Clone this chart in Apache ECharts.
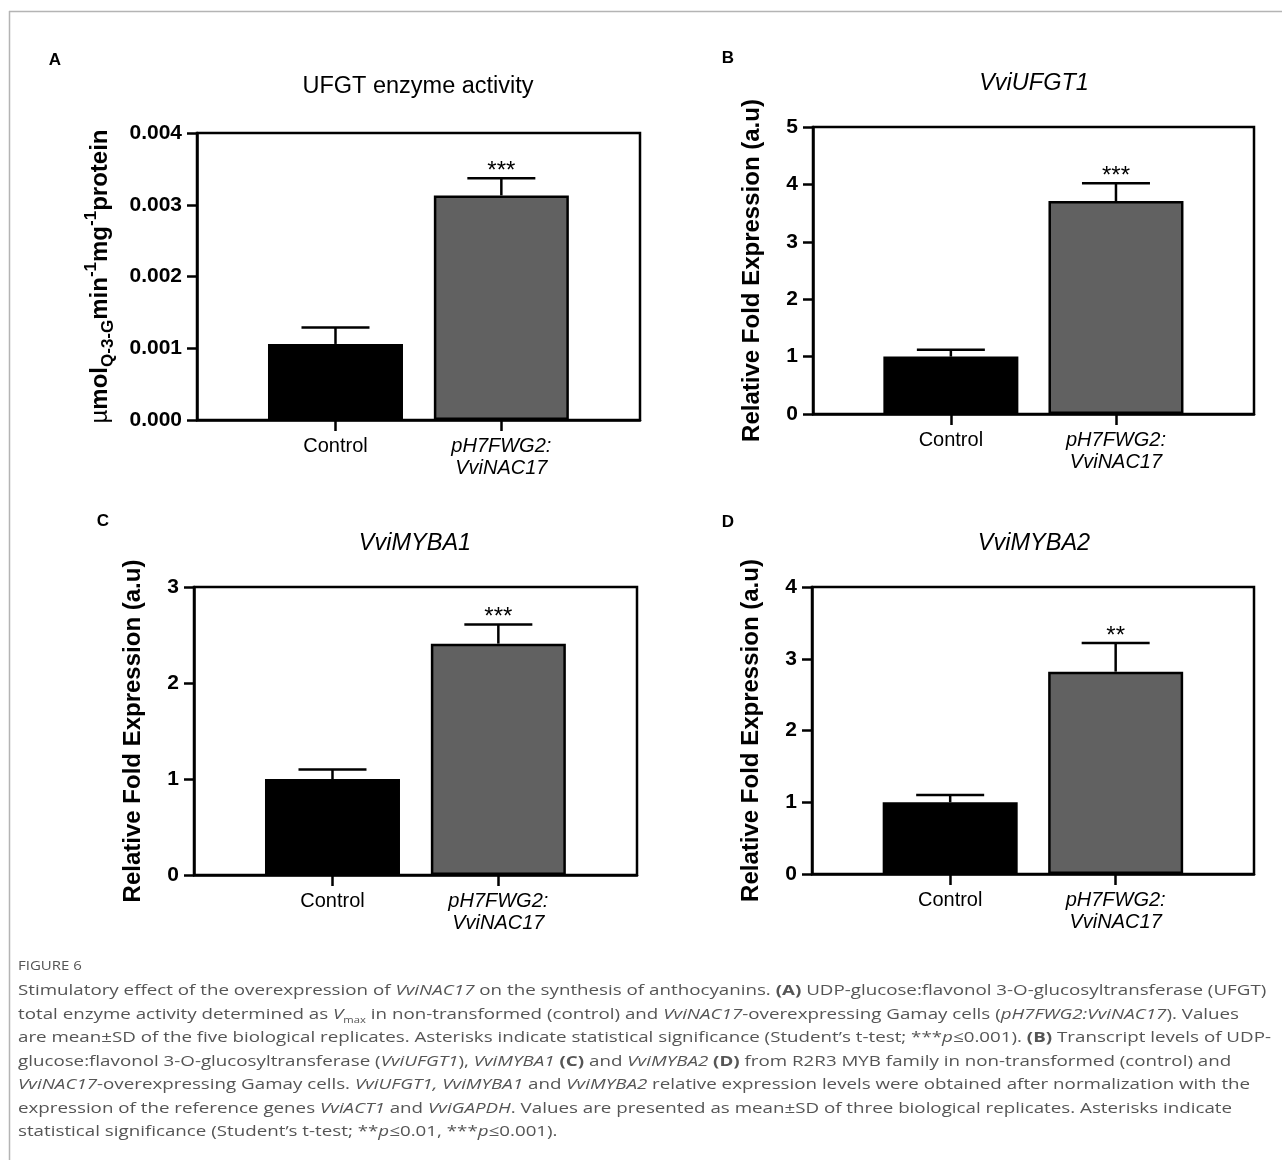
<!DOCTYPE html>
<html><head><meta charset="utf-8">
<script src="https://cdn.jsdelivr.net/npm/echarts@6/dist/echarts.min.js"></script>
<style>html,body{margin:0;padding:0;background:#fff}#c{width:1282px;height:1160px}</style>
</head><body><div id="c"></div><script>
// ---------- data ----------
const categories = ['Control', 'pH7FWG2:VviNAC17'];
const ufgtActivityMean = [0.00106, 0.00313];
const ufgtActivitySD = [0.00023, 0.00024];
const ufgtActivitySig = ['', '***'];
const vviUFGT1Mean = [1.00, 3.71];
const vviUFGT1SD = [0.12, 0.31];
const vviUFGT1Sig = ['', '***'];
const vviMYBA1Mean = [1.00, 2.41];
const vviMYBA1SD = [0.10, 0.20];
const vviMYBA1Sig = ['', '***'];
const vviMYBA2Mean = [1.00, 2.82];
const vviMYBA2SD = [0.10, 0.40];
const vviMYBA2Sig = ['', '**'];
const panelLetters = ['A', 'B', 'C', 'D'];
const panelTitles = ['UFGT enzyme activity', 'VviUFGT1', 'VviMYBA1', 'VviMYBA2'];
const yAxisMax = [0.004, 5, 3, 4];
const yAxisInterval = [0.001, 1, 1, 1];
const yAxisDecimals = [3, 0, 0, 0];
const expressionAxisName = 'Relative Fold Expression (a.u)';

// ---------- layout ----------
const FONT = '"Liberation Sans", Arial, sans-serif';
const LW = 2.5;
const panels = [
  { grid: { left: 197, top: 133, width: 443, height: 287 }, mean: ufgtActivityMean, sd: ufgtActivitySD, sig: ufgtActivitySig, nameGap: 80, letter: [55, 60], title: [418, 87], italic: false },
  { grid: { left: 813, top: 127, width: 441, height: 287 }, mean: vviUFGT1Mean, sd: vviUFGT1SD, sig: vviUFGT1Sig, nameGap: 49, letter: [728, 58], title: [1034, 83], italic: true },
  { grid: { left: 194, top: 587, width: 443, height: 288 }, mean: vviMYBA1Mean, sd: vviMYBA1SD, sig: vviMYBA1Sig, nameGap: 49, letter: [103, 521], title: [415, 543], italic: true },
  { grid: { left: 812, top: 587, width: 442, height: 287 }, mean: vviMYBA2Mean, sd: vviMYBA2SD, sig: vviMYBA2Sig, nameGap: 49, letter: [728, 522], title: [1034, 543], italic: true }
];
const X_MIN = -0.835, X_MAX = 1.836;
const BAR_COLORS = ['#000000', '#616161'];

const grids = [], xAxes = [], yAxes = [], series = [], graphics = [];

panels.forEach((p, i) => {
  grids.push(Object.assign({ show: true, borderColor: '#000', borderWidth: LW, backgroundColor: 'transparent' }, p.grid));
  xAxes.push({
    type: 'value', gridIndex: i, min: X_MIN, max: X_MAX,
    axisLine: { show: true, onZero: false, lineStyle: { color: '#000', width: LW } },
    axisTick: { show: true, customValues: [0, 1], length: 11, lineStyle: { color: '#000', width: LW } },
    splitLine: { show: false },
    axisLabel: {
      customValues: [0, 1], margin: 15, color: '#000', fontFamily: FONT, fontSize: 20, lineHeight: 22,
      formatter: v => {
        const name = categories[Math.round(v)];
        if (Math.round(v) === 0) return '{n|' + name + '}';
        const parts = name.split(':');
        return '{it|' + parts[0] + ':}\n{it|' + parts[1] + '}';
      },
      rich: {
        n: { fontFamily: FONT, fontSize: 20, color: '#000', lineHeight: 22 },
        it: { fontFamily: FONT, fontSize: 20, fontStyle: 'italic', color: '#000', lineHeight: 22 }
      }
    }
  });
  const yAxis = {
    type: 'value', gridIndex: i, min: 0, max: yAxisMax[i], interval: yAxisInterval[i],
    axisLine: { show: true, onZero: false, lineStyle: { color: '#000', width: LW } },
    axisTick: { show: true, length: 10, lineStyle: { color: '#000', width: LW } },
    splitLine: { show: false },
    axisLabel: { margin: 15, color: '#000', fontFamily: FONT, fontSize: 21, fontWeight: 'bold',
      formatter: v => v.toFixed(yAxisDecimals[i]) },
    nameLocation: 'middle', nameGap: p.nameGap
  };
  if (i === 0) {
    yAxis.name = '{mu|µ}{b|mol}{sub|Q-3-G}{b|min}{sup|-1}{b|mg}{sup|-1}{b|protein}';
    yAxis.nameTextStyle = {
      rich: {
        mu: { fontFamily: FONT, fontSize: 24, color: '#000', lineHeight: 34 },
        b: { fontFamily: FONT, fontSize: 24, fontWeight: 'bold', color: '#000', lineHeight: 34 },
        sub: { fontFamily: FONT, fontSize: 17, fontWeight: 'bold', color: '#000', lineHeight: 17, verticalAlign: 'bottom' },
        sup: { fontFamily: FONT, fontSize: 17, fontWeight: 'bold', color: '#000', lineHeight: 17, verticalAlign: 'top' }
      }
    };
  } else {
    yAxis.name = expressionAxisName;
    yAxis.nameTextStyle = { fontFamily: FONT, fontSize: 24, fontWeight: 'bold', color: '#000' };
  }
  yAxes.push(yAxis);

  series.push({
    type: 'bar', xAxisIndex: i, yAxisIndex: i, barWidth: 135,
    data: p.mean.map((m, j) => [j, m]),
    itemStyle: { color: params => BAR_COLORS[params.dataIndex], borderColor: '#000', borderWidth: LW },
    silent: true, z: 2
  });
  const sig = p.sig;
  series.push({
    type: 'custom', xAxisIndex: i, yAxisIndex: i, z: 5, silent: true,
    data: p.mean.map((m, j) => [j, m, m + p.sd[j]]),
    encode: { x: 0, y: [1, 2] },
    renderItem: (params, api) => {
      const x = api.value(0);
      const p0 = api.coord([x, api.value(1)]);
      const p1 = api.coord([x, api.value(2)]);
      const half = 34;
      return {
        type: 'group', children: [
          { type: 'line', shape: { x1: p0[0], y1: p0[1], x2: p1[0], y2: p1[1] }, style: { stroke: '#000', lineWidth: LW } },
          { type: 'line', shape: { x1: p1[0] - half, y1: p1[1], x2: p1[0] + half, y2: p1[1] }, style: { stroke: '#000', lineWidth: LW } },
          { type: 'text', style: { text: sig[params.dataIndex], x: p1[0], y: p1[1] - 7, align: 'center', verticalAlign: 'middle', fill: '#000', font: '24px ' + FONT } }
        ]
      };
    }
  });

  graphics.push({ type: 'text', x: p.letter[0], y: p.letter[1],
    style: { text: panelLetters[i], fill: '#000', font: 'bold 17px ' + FONT, align: 'center', verticalAlign: 'middle' } });
  graphics.push({ type: 'text', x: p.title[0], y: p.title[1],
    style: { text: panelTitles[i], fill: '#000', font: (p.italic ? 'italic ' : '') + '23.5px ' + FONT, align: 'center', verticalAlign: 'middle' } });
});

// frame lines
graphics.push({ type: 'line', shape: { x1: 9, y1: 11.5, x2: 1282, y2: 11.5 }, style: { stroke: '#b4b4b4', lineWidth: 1.5 } });
graphics.push({ type: 'line', shape: { x1: 9.5, y1: 11, x2: 9.5, y2: 1160 }, style: { stroke: '#b4b4b4', lineWidth: 1.5 } });

// caption
const CF = '"Open Sans", "Noto Sans", sans-serif';
const CS = 15;
const CC = '#555';
const CAP_SCALE = 1.25;
const capRich = {
  i: { fontFamily: CF, fontSize: CS, fontStyle: 'italic', fill: CC },
  b: { fontFamily: CF, fontSize: CS, fontWeight: 'bold', fill: CC },
  sub: { fontFamily: CF, fontSize: 9, fill: CC, verticalAlign: 'bottom', lineHeight: 9 }
};
const captionLines = [
  'Stimulatory effect of the overexpression of {i|VviNAC17} on the synthesis of anthocyanins. {b|(A)} UDP-glucose:flavonol 3-O-glucosyltransferase (UFGT)',
  'total enzyme activity determined as {i|V}{sub|max} in non-transformed (control) and {i|VviNAC17}-overexpressing Gamay cells ({i|pH7FWG2:VviNAC17}). Values',
  'are mean±SD of the five biological replicates. Asterisks indicate statistical significance (Student\u2019s t-test; ***{i|p}≤0.001). {b|(B)} Transcript levels of UDP-',
  'glucose:flavonol 3-O-glucosyltransferase ({i|VviUFGT1}), {i|VviMYBA1} {b|(C)} and {i|VviMYBA2} {b|(D)} from R2R3 MYB family in non-transformed (control) and',
  '{i|VviNAC17}-overexpressing Gamay cells. {i|VviUFGT1, VviMYBA1} and {i|VviMYBA2} relative expression levels were obtained after normalization with the',
  'expression of the reference genes {i|VviACT1} and {i|VviGAPDH}. Values are presented as mean±SD of three biological replicates. Asterisks indicate',
  'statistical significance (Student\u2019s t-test; **{i|p}≤0.01, ***{i|p}≤0.001).'
];
graphics.push({ type: 'text', x: 18, y: 967, scaleX: CAP_SCALE, style: { text: 'FIGURE 6', fill: CC, font: '12px ' + CF, verticalAlign: 'middle' } });
captionLines.forEach((t, k) => {
  graphics.push({ type: 'text', x: 18, y: 991 + 23.5 * k, scaleX: CAP_SCALE,
    style: { text: t, fill: CC, fontFamily: CF, fontSize: CS, verticalAlign: 'middle', lineHeight: 20, rich: capRich } });
});

const chart = echarts.init(document.getElementById('c'), null, { renderer: 'canvas' });
chart.setOption({
  animation: false,
  backgroundColor: '#fff',
  grid: grids, xAxis: xAxes, yAxis: yAxes, series: series,
  graphic: graphics
});
</script></body></html>
